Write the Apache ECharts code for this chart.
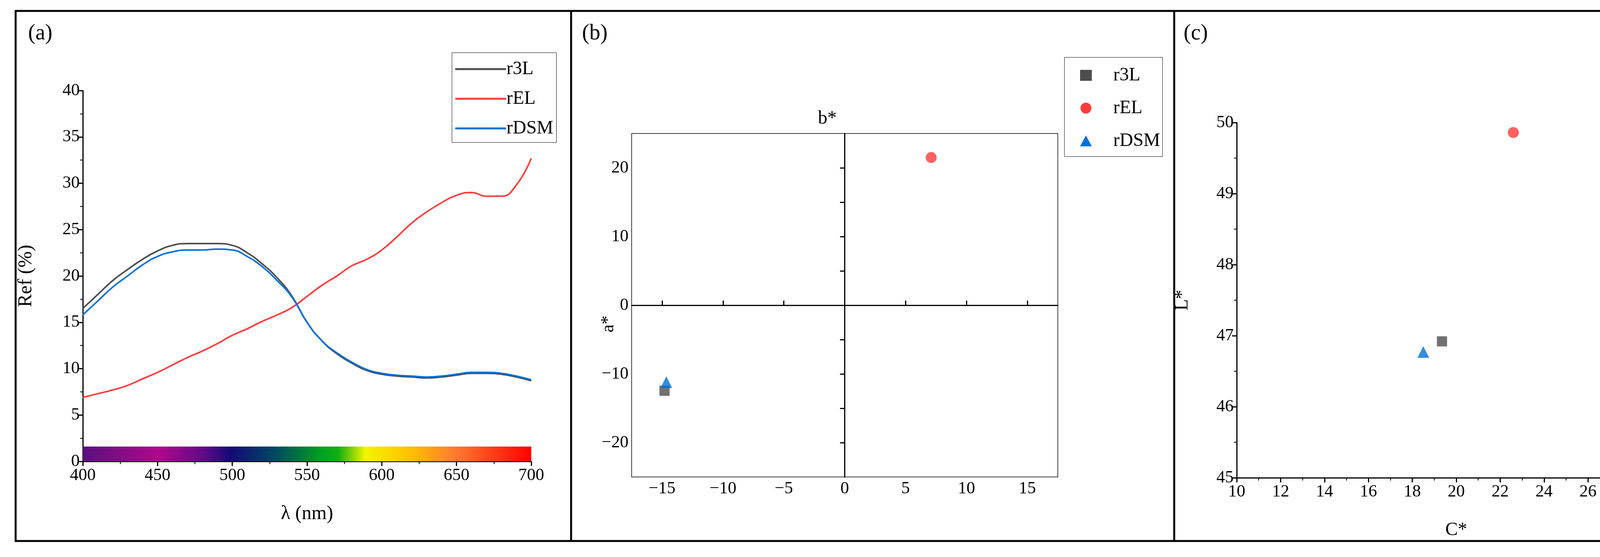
<!DOCTYPE html>
<html>
<head>
    <meta charset="UTF-8">
    <title></title>
    <style>html,body{margin:0;padding:0;background:#fff;overflow:hidden}</style>
</head>
<body>
<div id="main" style="width: 4435px;height:1427px;"></div>
<script type="text/javascript" src="https://cdn.jsdelivr.net/npm/echarts@6/dist/echarts.min.js"></script>
<script type="text/javascript">
    // (a) 反射光谱
    var wavelengths = [400,410,420,430,440,450,460,470,480,490,500,510,520,530,540,550,560,570,580,590,600,610,620,630,640,650,660,670,680,690,700];
    var ref3L  = [16.5,18.0,19.5,20.7,21.8,22.7,23.3,23.5,23.5,23.5,23.3,22.5,21.3,19.8,17.8,15.0,13.0,11.6,10.6,9.8,9.4,9.2,9.1,9.0,9.1,9.3,9.5,9.5,9.4,9.1,8.7];
    var refEL  = [6.9,7.3,7.7,8.2,8.9,9.6,10.4,11.2,11.9,12.7,13.6,14.3,15.1,15.8,16.6,17.8,19.0,20.0,21.1,21.8,22.8,24.2,25.7,26.9,27.9,28.7,29.0,28.6,28.6,29.8,32.7];
    var refDSM = [15.8,17.3,18.8,20.0,21.2,22.1,22.6,22.8,22.8,22.9,22.8,22.1,21.0,19.5,17.7,15.0,13.0,11.7,10.7,9.9,9.5,9.3,9.2,9.1,9.2,9.4,9.6,9.6,9.5,9.2,8.8];
    // (b) a*, b*
    var ab3L = [-14.8, -12.45];
    var abEL = [7.1, 21.5];
    var abDSM = [-14.65, -11.2];
    // (c) C*, L*
    var cl3L = [19.35, 46.92];
    var clEL = [22.6, 49.86];
    var clDSM = [18.5, 46.77];
    var names = ['r3L', 'rEL', 'rDSM'];
    var colors = ['#4d4d4d', '#ff3b3b', '#0070d8'];

    var FONT = 'Liberation Serif';
    var tick = {fontFamily: FONT, fontSize: 44, color: '#000'};
    var lineBlack = {lineStyle: {color: '#000', width: 3}};

    function zip(xs, ys) { return xs.map(function (x, i) { return [x, ys[i]]; }); }
    function minus(v) { return String(v).replace('-', '\u2212'); }

    var spectrum = new echarts.graphic.LinearGradient(0, 0, 1, 0, [
        {offset: 0.00, color: '#5a1080'}, {offset: 0.17, color: '#b0088c'},
        {offset: 0.27, color: '#600a88'}, {offset: 0.33, color: '#140a78'},
        {offset: 0.43, color: '#004a60'}, {offset: 0.53, color: '#00a020'},
        {offset: 0.57, color: '#10b010'}, {offset: 0.63, color: '#f4f400'},
        {offset: 0.73, color: '#ffc000'}, {offset: 0.83, color: '#ff7a30'},
        {offset: 1.00, color: '#ff0000'}
    ]);

    var myChart = echarts.init(document.getElementById('main'));
    var option = {
        animation: false,
        color: colors,
        graphic: [
            {type: 'rect', shape: {x: 40, y: 28, width: 4352, height: 1358}, style: {fill: 'none', stroke: '#000', lineWidth: 5}},
            {type: 'line', shape: {x1: 1462, y1: 28, x2: 1462, y2: 1386}, style: {stroke: '#000', lineWidth: 5}},
            {type: 'line', shape: {x1: 3006, y1: 28, x2: 3006, y2: 1386}, style: {stroke: '#000', lineWidth: 5}},
            {type: 'text', left: 72, top: 58, style: {text: '(a)', font: '56px "Liberation Serif"', fill: '#000'}},
            {type: 'text', left: 1490, top: 58, style: {text: '(b)', font: '56px "Liberation Serif"', fill: '#000'}},
            {type: 'text', left: 3030, top: 58, style: {text: '(c)', font: '56px "Liberation Serif"', fill: '#000'}},
            {type: 'text', x: 1535, y: 830, rotation: Math.PI / 2, style: {text: 'a*', font: '46px "Liberation Serif"', fill: '#000', align: 'center'}},
            {type: 'text', left: 2094, top: 280, style: {text: 'b*', font: '48px "Liberation Serif"', fill: '#000'}}
        ],
        legend: [
            {data: names, orient: 'vertical', left: 1157, top: 135, itemWidth: 130, itemHeight: 14, itemGap: 28,
             lineStyle: {width: 5}, itemStyle: {opacity: 0},
             borderColor: '#000', borderWidth: 1, padding: [18, 8, 12, 6],
             textStyle: {fontFamily: FONT, fontSize: 48, color: '#000', padding: [0, 0, 0, -4]}},
            {data: [{name: 'r3L', icon: 'rect'}, {name: 'rEL', icon: 'circle'}, {name: 'rDSM', icon: 'triangle'}],
             orient: 'vertical', left: 2725, top: 147, itemWidth: 30, itemHeight: 28, itemGap: 36,
             borderColor: '#000', borderWidth: 1, padding: [22, 6, 16, 40],
             textStyle: {fontFamily: FONT, fontSize: 48, color: '#000', padding: [0, 0, 0, 50]}},
            {data: [{name: 'r3L', icon: 'rect'}, {name: 'rEL', icon: 'circle'}, {name: 'rDSM', icon: 'triangle'}],
             orient: 'vertical', left: 4116, top: 151, itemWidth: 30, itemHeight: 28, itemGap: 28,
             borderColor: '#000', borderWidth: 1, padding: [20, 6, 14, 46],
             textStyle: {fontFamily: FONT, fontSize: 46, color: '#000', padding: [0, 0, 0, 50]}}
        ],
        grid: [
            {left: 212, top: 232, width: 1148, height: 950},
            {left: 1617, top: 342, width: 1091, height: 880, show: true, borderColor: '#000', borderWidth: 1.5},
            {left: 3166, top: 314, width: 1124, height: 910}
        ],
        xAxis: [
            {gridIndex: 0, type: 'value', min: 400, max: 700, interval: 50,
             name: 'λ (nm)', nameLocation: 'middle', nameGap: 110,
             nameTextStyle: {fontFamily: FONT, fontSize: 50, color: '#000'},
             axisLine: lineBlack, axisTick: {length: 12, lineStyle: {color: '#000', width: 3}},
             minorTick: {show: true, splitNumber: 2, length: 7, lineStyle: {color: '#000', width: 2}},
             splitLine: {show: false}, axisLabel: Object.assign({margin: 14}, tick)},
            {gridIndex: 1, type: 'value', min: -17.5, max: 17.5, interval: 5,
             axisLine: {onZero: true, lineStyle: {color: '#000', width: 3}},
             axisTick: {inside: true, length: 12, lineStyle: {color: '#000', width: 3},
                        customValues: [-15, -10, -5, 0, 5, 10, 15]},
             minorTick: {show: true, splitNumber: 2, length: 7, lineStyle: {color: '#000', width: 2}},
             splitLine: {show: false},
             axisLabel: Object.assign({customValues: [-15, -10, -5, 0, 5, 10, 15], formatter: minus}, tick)},
            {gridIndex: 2, type: 'value', min: 10, max: 30, interval: 2,
             name: 'C*', nameLocation: 'middle', nameGap: 110,
             nameTextStyle: {fontFamily: FONT, fontSize: 48, color: '#000'},
             axisLine: lineBlack, axisTick: {length: 12, lineStyle: {color: '#000', width: 3}},
             minorTick: {show: true, splitNumber: 2, length: 7, lineStyle: {color: '#000', width: 2}},
             splitLine: {show: false}, axisLabel: Object.assign({margin: 14}, tick)}
        ],
        yAxis: [
            {gridIndex: 0, type: 'value', min: 0, max: 40, interval: 5,
             name: 'Ref (%)', nameLocation: 'middle', nameGap: 120,
             nameTextStyle: {fontFamily: FONT, fontSize: 50, color: '#000'},
             axisLine: lineBlack, axisTick: {length: 12, lineStyle: {color: '#000', width: 3}},
             minorTick: {show: true, splitNumber: 2, length: 7, lineStyle: {color: '#000', width: 2}},
             splitLine: {show: false}, axisLabel: tick},
            {gridIndex: 1, type: 'value', min: -25, max: 25, interval: 5,
             axisLine: {onZero: true, lineStyle: {color: '#000', width: 3}},
             axisTick: {length: 12, lineStyle: {color: '#000', width: 3},
                        customValues: [-20, -15, -10, -5, 0, 5, 10, 15, 20]},
             splitLine: {show: false},
             axisLabel: Object.assign({customValues: [-20, -10, 0, 10, 20], formatter: minus}, tick)},
            {gridIndex: 2, type: 'value', min: 45, max: 50, interval: 1,
             name: 'L*', nameLocation: 'middle', nameGap: 115,
             nameTextStyle: {fontFamily: FONT, fontSize: 48, color: '#000'},
             axisLine: lineBlack, axisTick: {length: 12, lineStyle: {color: '#000', width: 3}},
             minorTick: {show: true, splitNumber: 2, length: 7, lineStyle: {color: '#000', width: 2}},
             splitLine: {show: false}, axisLabel: tick}
        ],
        series: [
            {name: 'r3L', type: 'line', xAxisIndex: 0, yAxisIndex: 0, smooth: true, symbol: 'none',
             lineStyle: {width: 4, color: colors[0]}, data: zip(wavelengths, ref3L), z: 3,
             markArea: {silent: true, itemStyle: {color: spectrum}, data: [[{coord: [400, 0]}, {coord: [700, 1.6]}]]}},
            {name: 'rEL', type: 'line', xAxisIndex: 0, yAxisIndex: 0, smooth: true, symbol: 'none',
             lineStyle: {width: 4, color: colors[1]}, data: zip(wavelengths, refEL)},
            {name: 'rDSM', type: 'line', xAxisIndex: 0, yAxisIndex: 0, smooth: true, symbol: 'none',
             lineStyle: {width: 4, color: colors[2]}, data: zip(wavelengths, refDSM)},

            {name: 'r3L', type: 'scatter', xAxisIndex: 1, yAxisIndex: 1, symbol: 'rect', symbolSize: 26, itemStyle: {color: colors[0]}, data: [ab3L]},
            {name: 'rEL', type: 'scatter', xAxisIndex: 1, yAxisIndex: 1, symbol: 'circle', symbolSize: 28, itemStyle: {color: colors[1]}, data: [abEL]},
            {name: 'rDSM', type: 'scatter', xAxisIndex: 1, yAxisIndex: 1, symbol: 'triangle', symbolSize: 30, itemStyle: {color: colors[2]}, data: [abDSM]},

            {name: 'r3L', type: 'scatter', xAxisIndex: 2, yAxisIndex: 2, symbol: 'rect', symbolSize: 26, itemStyle: {color: colors[0]}, data: [cl3L]},
            {name: 'rEL', type: 'scatter', xAxisIndex: 2, yAxisIndex: 2, symbol: 'circle', symbolSize: 28, itemStyle: {color: colors[1]}, data: [clEL]},
            {name: 'rDSM', type: 'scatter', xAxisIndex: 2, yAxisIndex: 2, symbol: 'triangle', symbolSize: 30, itemStyle: {color: colors[2]}, data: [clDSM]}
        ]
    };
    myChart.setOption(option);
</script>
</body>
</html>
